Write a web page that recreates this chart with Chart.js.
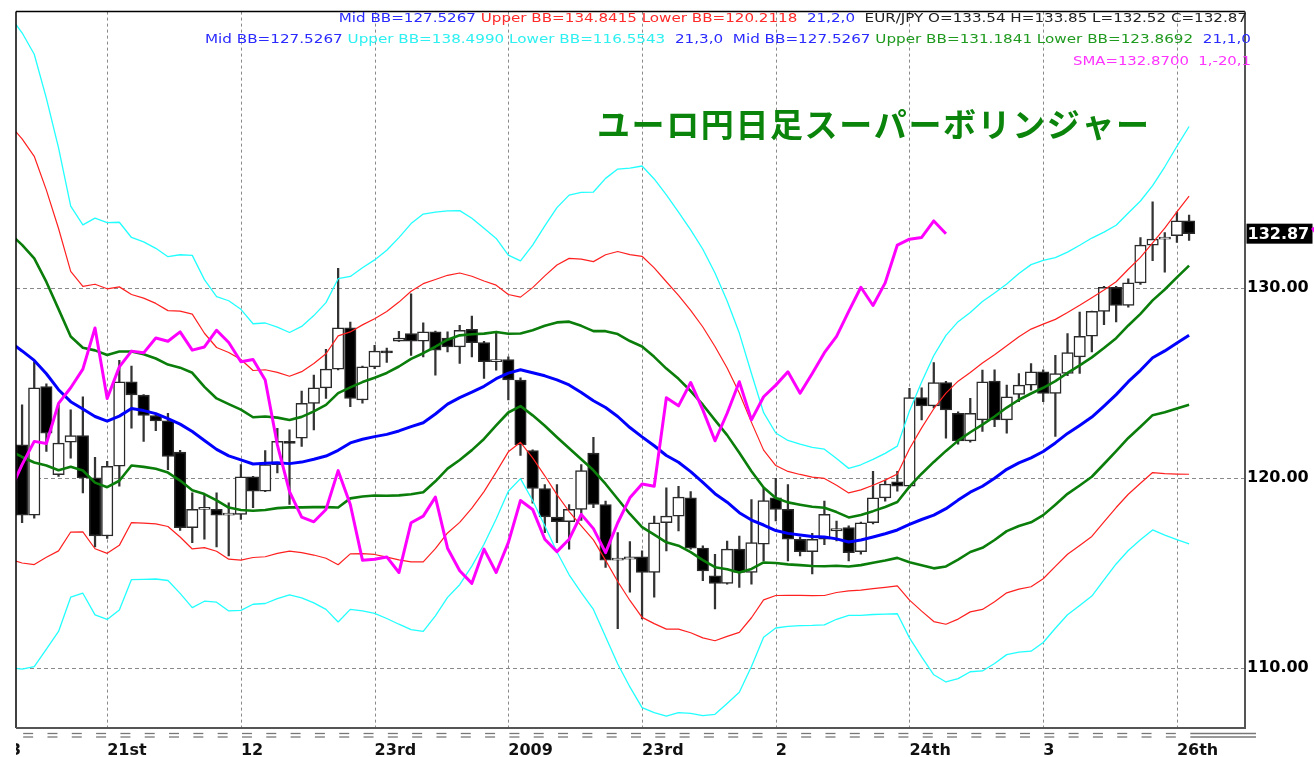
<!DOCTYPE html>
<html><head><meta charset="utf-8">
<script src="https://cdn.jsdelivr.net/npm/chart.js@4.4.1/dist/chart.umd.min.js"></script>
<style>html,body{margin:0;padding:0;background:#fff;}#wrap{width:1314px;height:757px;}canvas{display:block;}</style>
</head><body><div id="wrap"><canvas id="c" width="1314" height="757"></canvas></div>
<script>
// ---- data (EUR/JPY daily) ----
const opens = [
121.76,118.06,124.82,120.19,121.90,122.25,120.02,116.96,120.63,125.08,
124.38,123.30,123.02,121.38,117.40,118.36,118.36,118.06,118.10,120.07,
119.32,120.72,121.94,122.11,123.94,124.76,125.74,127.91,124.12,125.86,
126.69,127.21,127.61,127.21,127.70,127.38,126.91,127.84,127.14,126.13,
126.25,125.17,121.45,119.46,117.96,117.71,118.36,121.33,118.62,115.69,
115.74,115.86,115.04,117.66,118.01,118.97,116.32,114.87,114.47,116.27,
115.04,116.53,118.97,118.36,116.79,116.14,116.79,117.23,117.40,116.14,
117.66,118.97,119.81,119.58,124.24,123.81,125.04,123.42,121.97,123.07,
125.11,123.07,124.41,124.90,125.60,124.47,125.51,126.39,127.47,128.78,
130.05,129.09,130.28,132.27,132.58,132.76,133.54];
const highs = [
123.86,126.13,124.97,123.86,123.60,124.29,121.10,120.89,126.21,125.90,
124.40,123.42,123.42,121.47,119.23,119.15,119.23,118.71,120.72,120.10,
121.45,122.63,122.55,124.59,125.43,126.79,131.05,128.22,125.90,127.00,
126.85,127.73,129.70,128.18,127.75,127.70,128.05,128.53,127.20,127.66,
126.39,125.29,121.50,119.67,119.67,118.62,120.72,122.15,118.80,117.14,
116.67,116.18,118.01,119.49,119.58,119.30,116.44,116.00,116.70,116.96,
118.88,119.49,120.00,119.67,116.90,117.10,118.80,117.75,117.50,117.70,
120.37,119.90,120.37,124.73,124.76,126.09,125.10,123.50,124.20,125.69,
125.70,124.90,125.51,126.04,125.70,126.47,127.61,128.74,128.80,130.10,
130.10,130.49,132.67,134.54,132.93,134.02,133.85];
const lows = [
117.66,117.90,121.41,120.10,121.06,119.23,116.39,116.84,119.58,122.63,
121.94,122.50,120.45,117.26,116.61,116.79,116.39,115.92,117.84,118.45,
119.30,120.28,118.62,121.68,122.55,124.20,125.70,123.77,123.95,125.77,
126.09,127.20,126.47,126.39,125.43,126.65,126.04,126.39,125.25,125.69,
124.12,121.20,118.69,117.14,116.61,116.27,117.78,118.45,115.31,112.08,
114.00,112.60,113.74,116.18,117.23,116.27,114.61,113.13,114.43,114.26,
114.43,115.65,117.75,115.65,115.92,114.96,116.50,116.70,115.65,116.00,
117.60,118.80,119.32,119.50,123.07,123.70,122.11,121.80,121.90,122.46,
122.72,122.37,124.03,124.64,124.03,122.20,125.40,125.51,126.65,128.08,
128.22,129.00,130.20,131.45,130.84,132.41,132.52];
const closes = [
118.06,124.76,122.37,121.85,122.25,120.02,116.96,120.63,125.08,124.38,
123.30,123.02,121.15,117.40,118.36,118.41,118.06,118.13,120.07,119.32,
120.72,121.94,121.83,123.94,124.76,125.74,127.91,124.20,125.86,126.69,
126.60,127.38,127.21,127.70,126.74,126.91,127.79,127.14,126.13,126.25,
125.17,121.76,119.46,117.96,117.71,118.36,120.40,118.62,115.69,115.74,
115.86,115.04,117.66,118.01,119.01,116.32,115.13,114.47,116.27,115.04,
116.61,118.83,118.36,116.79,116.14,116.79,118.10,117.35,116.09,117.66,
118.97,119.70,119.58,124.24,123.81,125.04,123.60,121.97,123.42,125.08,
123.07,124.29,124.90,125.60,124.47,125.51,126.61,127.47,128.78,130.05,
129.09,130.28,132.27,132.58,132.67,133.54,132.87];
// indicator lines start one bar before the first visible candle (bar -1, clipped at the left edge)
const lineStartBar = -1;
// Bollinger mid line (21) and one standard deviation, read per bar
const bbMid = [127.17,
126.70,126.20,125.50,124.66,124.03,123.64,123.25,123.01,123.27,123.67,
123.56,123.40,123.14,122.85,122.46,121.99,121.52,121.18,120.97,120.75,
120.79,120.81,120.77,120.85,121.00,121.17,121.47,121.86,122.05,122.19,
122.31,122.49,122.72,122.92,123.38,123.90,124.24,124.53,124.84,125.24,
125.53,125.71,125.55,125.39,125.18,124.91,124.51,124.08,123.72,123.25,
122.67,122.18,121.71,121.20,120.84,120.35,119.78,119.19,118.74,118.19,
117.80,117.54,117.25,117.10,117.02,116.94,116.91,116.81,116.65,116.75,
116.91,117.08,117.28,117.57,117.83,118.06,118.40,118.85,119.27,119.58,
120.00,120.47,120.81,121.07,121.41,121.86,122.36,122.78,123.22,123.80,
124.40,125.08,125.68,126.34,126.70,127.12,127.53];
const bbSd = [5.71,
5.58,5.37,4.83,4.24,3.43,3.23,3.48,3.48,3.40,3.00,
2.96,2.90,2.84,2.97,3.09,2.82,2.68,2.72,2.64,2.46,
2.46,2.38,2.30,2.38,2.52,2.69,3.01,2.92,3.01,3.10,
3.23,3.39,3.56,3.66,3.54,3.39,3.28,3.05,2.77,2.46,
2.07,1.91,2.24,2.63,3.02,3.33,3.51,3.66,4.02,4.34,
4.55,4.75,4.68,4.57,4.39,4.24,4.09,3.87,3.53,3.15,
2.57,1.97,1.71,1.63,1.59,1.56,1.54,1.41,1.29,1.32,
1.36,1.41,1.47,1.99,2.41,2.80,3.04,3.13,3.15,3.24,
3.25,3.25,3.32,3.39,3.35,3.25,3.18,3.16,3.14,3.05,
2.97,2.96,2.97,3.02,3.23,3.45,3.66];
// magenta SMA(1) shifted -20 bars, read per bar (starts at bar -1)
const smaLag = [119.32,
120.72,121.94,121.83,123.94,124.76,125.74,127.91,124.20,125.86,126.69,
126.60,127.38,127.21,127.70,126.74,126.91,127.79,127.14,126.13,126.25,
125.17,121.76,119.30,117.96,117.71,118.36,120.40,118.62,115.69,115.74,
115.86,115.04,117.66,118.01,119.01,116.32,115.13,114.47,116.27,115.04,
116.61,118.83,118.36,116.79,116.14,116.79,118.10,117.35,116.09,117.66,
118.97,119.70,119.58,124.24,123.81,125.04,123.60,121.97,123.42,125.08,
123.07,124.29,124.90,125.60,124.47,125.51,126.61,127.47,128.78,130.05,
129.09,130.28,132.27,132.58,132.67,133.54,132.87];
const xTickBars = [-1, 7, 18, 29, 40, 51, 62, 73, 84, 95];
const xTickLabels = ['3','21st','12','23rd','2009','23rd','2','24th','3','26th'];
const yTickValues = [110, 120, 130];
const titleText = 'ユーロ円日足スーパーボリンジャー';
const headerLines = [
  [['Mid BB=127.5267','#2a2aff'],[' Upper BB=134.8415 Lower BB=120.2118','#ff2a2a'],['  21,2,0','#2a2aff'],['  EUR/JPY O=133.54 H=133.85 L=132.52 C=132.87','#222']],
  [['Mid BB=127.5267','#2a2aff'],[' Upper BB=138.4990 Lower BB=116.5543','#2ef0f0'],['  21,3,0','#2a2aff'],['  Mid BB=127.5267','#2a2aff'],[' Upper BB=131.1841 Lower BB=123.8692','#1f9a1f'],['  21,1,0','#2a2aff']],
  [['SMA=132.8700  1,-20,1','#ff33ff']]
];

// ---- build datasets ----
const idx = closes.map((_, i) => i);
const pts = arr => arr.map((v, i) => ({x: i + lineStartBar, y: v}));
const band = k => bbMid.map((m, i) => ({x: i + lineStartBar, y: m + k * bbSd[i]}));
const lineDs = (data, color, w, order) => ({type:'line', data, borderColor:color, borderWidth:w, pointRadius:0, tension:0, fill:false, order, borderJoinStyle:'round'});

const decor = {
  id: 'decor',
  beforeDatasetsDraw(chart) {
    const {ctx, chartArea: a, scales: {x, y}} = chart;
    ctx.save();
    ctx.strokeStyle = '#8a8a8a'; ctx.lineWidth = 1;
    ctx.setLineDash([3, 3]);
    xTickBars.forEach(b => {
      if (b < 0) return;
      const px = Math.round(x.getPixelForValue(b)) + 0.5;
      ctx.beginPath(); ctx.moveTo(px, a.top); ctx.lineTo(px, a.bottom); ctx.stroke();
    });
    ctx.setLineDash([4, 3]);
    yTickValues.forEach(v => {
      const py = Math.round(y.getPixelForValue(v)) + 0.5;
      ctx.beginPath(); ctx.moveTo(a.left, py); ctx.lineTo(a.right, py); ctx.stroke();
    });
    ctx.restore();
  },
  afterDatasetsDraw(chart) {
    const {ctx, chartArea: a, scales: {x, y}} = chart;
    ctx.save();
    // frame
    ctx.setLineDash([]);
    ctx.strokeStyle = '#000'; ctx.lineWidth = 1.5;
    ctx.beginPath(); ctx.moveTo(a.left, a.top); ctx.lineTo(a.right, a.top); ctx.stroke();
    ctx.beginPath(); ctx.moveTo(a.left, a.top); ctx.lineTo(a.left, a.bottom); ctx.stroke();
    ctx.strokeStyle = '#555'; ctx.lineWidth = 2;
    ctx.beginPath(); ctx.moveTo(a.left, a.bottom); ctx.lineTo(a.right + 1, a.bottom); ctx.stroke();
    ctx.beginPath(); ctx.moveTo(a.right, a.top); ctx.lineTo(a.right, a.bottom); ctx.stroke();
    // "=" markers under the axis
    ctx.strokeStyle = '#777'; ctx.lineWidth = 1.3;
    for (let k = 0; 0.5 + 2 * k < closes.length - 1; k++) {
      const cx = x.getPixelForValue(0.5 + 2 * k);
      [733.5, 737].forEach(yy => { ctx.beginPath(); ctx.moveTo(cx - 5, yy); ctx.lineTo(cx + 5, yy); ctx.stroke(); });
    }
    const ex = x.getPixelForValue(closes.length - 1 + 0.1);
    [733.5, 737].forEach(yy => { ctx.beginPath(); ctx.moveTo(ex, yy); ctx.lineTo(1256, yy); ctx.stroke(); });
    // x labels
    ctx.save();
    ctx.beginPath(); ctx.rect(a.left, a.bottom + 1, 1314, 40); ctx.clip();
    ctx.fillStyle = '#111'; ctx.font = 'bold 16px "DejaVu Sans"'; ctx.textAlign = 'left'; ctx.textBaseline = 'alphabetic';
    xTickBars.forEach((b, i) => ctx.fillText(xTickLabels[i], x.getPixelForValue(b), 755));
    ctx.restore();
    // header lines
    const spans = [[338.8, 1247, 21.5], [205, 1251, 43], [1073, 1251, 65]];
    ctx.font = '13px "DejaVu Sans"'; ctx.textBaseline = 'alphabetic'; ctx.textAlign = 'left';
    headerLines.forEach((segs, li) => {
      const [x0, x1, yb] = spans[li];
      const w = ctx.measureText(segs.map(s => s[0]).join('')).width;
      ctx.save(); ctx.translate(x0, yb); ctx.scale((x1 - x0) / w, 1);
      let cx = 0;
      segs.forEach(([t, c]) => { ctx.fillStyle = c; ctx.fillText(t, cx, 0); cx += ctx.measureText(t).width; });
      ctx.restore();
    });
    // title
    ctx.fillStyle = '#0b840b'; ctx.font = 'bold 33px "Noto Sans CJK JP"'; ctx.textBaseline = 'middle';
    [...titleText].forEach((ch, i) => ctx.fillText(ch, 597 + i * 34.6, 124));
    // last price box
    const last = closes[closes.length - 1];
    const py = y.getPixelForValue(last);
    ctx.fillStyle = '#000'; ctx.fillRect(a.right + 1.5, py - 10, 66, 20);
    ctx.fillStyle = '#fff'; ctx.font = 'bold 16px "DejaVu Sans"'; ctx.textBaseline = 'middle';
    ctx.fillText(last.toFixed(2), a.right + 2.5, py + 1);
    ctx.fillStyle = '#ff00ff';
    ctx.beginPath(); ctx.moveTo(1311, py - 5); ctx.lineTo(1314, py - 7); ctx.lineTo(1314, py - 1); ctx.closePath(); ctx.fill();
    ctx.restore();
  }
};

new Chart(document.getElementById('c'), {
  type: 'bar',
  data: {
    datasets: [
      lineDs(pts(smaLag), '#ff00ff', 3, 0),
      lineDs(pts(bbMid), '#0000ff', 3, 1),
      lineDs(band(1), '#0a7d0a', 2.6, 2),
      lineDs(band(-1), '#0a7d0a', 2.6, 2),
      lineDs(band(2), '#ff2020', 1.2, 3),
      lineDs(band(-2), '#ff2020', 1.2, 3),
      lineDs(band(3), '#22ffff', 1.3, 4),
      lineDs(band(-3), '#22ffff', 1.3, 4),
      {type:'bar', data: idx.map(i => ({x:i, y:[opens[i], closes[i]]})),
        backgroundColor: idx.map(i => closes[i] >= opens[i] ? '#ffffff' : '#000000'),
        borderColor: '#2a2a2a', borderWidth: 1.5, borderSkipped: false, barThickness: 11.5,
        minBarLength: 2, grouped: false, order: 8},
      {type:'bar', data: idx.map(i => ({x:i, y:[lows[i], highs[i]]})),
        backgroundColor: '#333', borderWidth: 0, barThickness: 1.6, grouped: false, order: 9}
    ]
  },
  options: {
    responsive: false, animation: false, events: [],
    layout: {padding: {left: 16, top: 8, right: 0, bottom: 29}},
    plugins: {legend: {display: false}, tooltip: {enabled: false}},
    scales: {
      x: {type: 'linear', display: false, min: -0.5, max: 100.6, offset: false, grid: {offset: false}},
      y: {position: 'right', min: 106.859, max: 144.555,
        afterBuildTicks: s => { s.ticks = yTickValues.map(v => ({value: v})); },
        afterFit: s => { s.width = 69; },
        grid: {display: false, drawTicks: false}, border: {display: false},
        ticks: {padding: 2, color: '#000', font: {family: 'DejaVu Sans', size: 16, weight: 'bold'},
          callback: v => Number(v).toFixed(2)}}
    }
  },
  plugins: [decor]
});
</script></body></html>
